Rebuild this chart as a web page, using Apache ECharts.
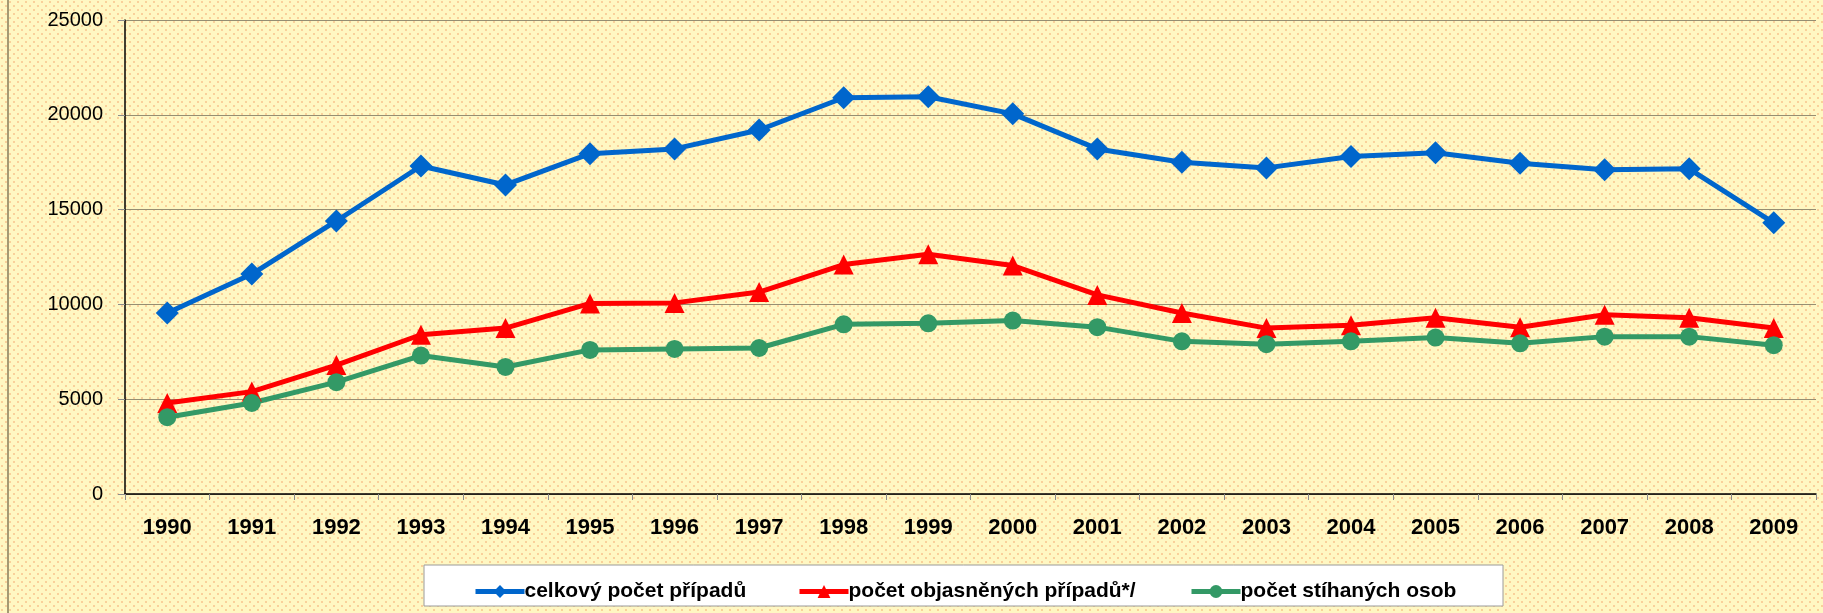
<!DOCTYPE html>
<html>
<head>
<meta charset="utf-8">
<script src="https://cdn.jsdelivr.net/npm/echarts@6/dist/echarts.min.js"></script>
<style>
  html, body { margin: 0; padding: 0; }
  #chart { width: 1823px; height: 613px; }
</style>
</head>
<body>
<div id="chart"></div>
<script>
var years = ['1990', '1991', '1992', '1993', '1994', '1995', '1996', '1997', '1998', '1999',
  '2000', '2001', '2002', '2003', '2004', '2005', '2006', '2007', '2008', '2009'];
var celkovy = [9550, 11600, 14400, 17300, 16300, 17950, 18200, 19200, 20900, 20950,
  20050, 18200, 17500, 17200, 17800, 18000, 17450, 17100, 17150, 14300];
var objasnenych = [4800, 5400, 6800, 8400, 8750, 10050, 10080, 10650, 12100, 12650,
  12050, 10500, 9550, 8750, 8900, 9300, 8800, 9450, 9300, 8750];
var stihanych = [4050, 4800, 5900, 7300, 6700, 7600, 7650, 7700, 8950, 9000,
  9150, 8800, 8050, 7900, 8050, 8250, 7950, 8300, 8300, 7850];
var names = ['celkový počet případů', 'počet objasněných případů*/', 'počet stíhaných osob'];

// dotted yellow background like the original
var pat = document.createElement('canvas');
pat.width = 8; pat.height = 8;
var ctx = pat.getContext('2d');
ctx.fillStyle = '#FFF7C2';
ctx.fillRect(0, 0, 8, 8);
ctx.fillStyle = '#F9D09A';
ctx.fillRect(1, 1, 2, 2);
ctx.fillRect(5, 5, 2, 2);

// one legend per item so each sits where it does in the original
function legendAt(name, left) {
  return {
    left: left,
    top: 576,
    itemWidth: 49,
    itemHeight: 16,
    lineStyle: { width: 5 },
    textStyle: { fontSize: 21, fontWeight: 'bold', color: '#000', padding: [0, 0, 0, -5] },
    data: [name]
  };
}

var myChart = echarts.init(document.getElementById('chart'));
var option = {
  backgroundColor: { image: pat, repeat: 'repeat' },
  textStyle: { fontFamily: 'Liberation Sans, Arial, sans-serif' },
  graphic: [
    { type: 'line', shape: { x1: 8, y1: 0, x2: 8, y2: 613 },
      style: { stroke: '#A49A74', lineWidth: 2 } },
    { type: 'rect', shape: { x: 424, y: 565, width: 1079, height: 41 },
      style: { fill: '#fff', stroke: '#9A9A9A', lineWidth: 1 }, z: 0 }
  ],
  legend: [legendAt(names[0], 468), legendAt(names[1], 792), legendAt(names[2], 1184)],
  grid: { left: 125, right: 7, top: 20, bottom: 119 },
  xAxis: {
    type: 'category',
    data: years,
    boundaryGap: true,
    axisLine: { lineStyle: { color: '#000', width: 1.5 } },
    axisTick: { show: true, length: 6, interval: 0, lineStyle: { color: '#8C8C8C' } },
    axisLabel: { fontSize: 22, fontWeight: 'bold', color: '#000', margin: 23, interval: 0 }
  },
  yAxis: {
    type: 'value',
    min: 0,
    max: 25000,
    interval: 5000,
    axisLine: { show: true, lineStyle: { color: '#000', width: 1.5 } },
    axisTick: { show: true, length: 7, lineStyle: { color: '#8C8C8C' } },
    axisLabel: { fontSize: 20, color: '#000', margin: 22, formatter: function (v) { return String(v); } },
    splitLine: { lineStyle: { color: '#968E72', width: 1 } }
  },
  series: [
    {
      name: names[0],
      type: 'line',
      data: celkovy,
      symbol: 'diamond',
      symbolSize: 23,
      color: '#0066CC',
      lineStyle: { width: 5 }
    },
    {
      name: names[1],
      type: 'line',
      data: objasnenych,
      symbol: 'triangle',
      symbolSize: 20,
      color: '#FF0000',
      lineStyle: { width: 5 }
    },
    {
      name: names[2],
      type: 'line',
      data: stihanych,
      symbol: 'circle',
      symbolSize: 18,
      color: '#339966',
      lineStyle: { width: 5 }
    }
  ]
};
myChart.setOption(option);
</script>
</body>
</html>
